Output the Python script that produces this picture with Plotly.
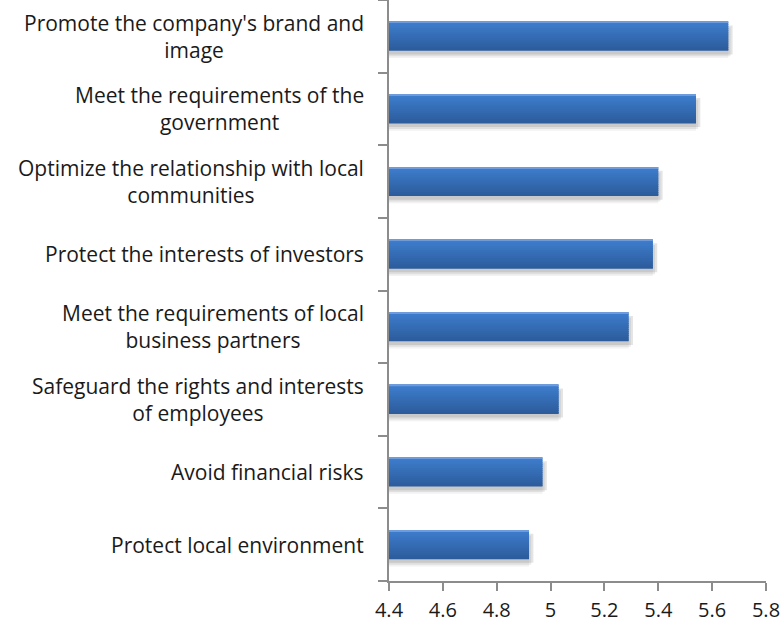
import numpy as np
import plotly.graph_objects as go

# Motives, listed top to bottom
categories = [
    "Promote the company's brand and<br>image",
    "Meet the requirements of the<br>government",
    "Optimize the relationship with local<br>communities",
    "Protect the interests of investors",
    "Meet the requirements of local<br>business partners",
    "Safeguard the rights and interests<br>of employees",
    "Avoid financial risks",
    "Protect local environment",
]
scores = [5.66, 5.54, 5.40, 5.38, 5.29, 5.03, 4.97, 4.92]
x_ticks = [4.4, 4.6, 4.8, 5.0, 5.2, 5.4, 5.6, 5.8]
x_tick_text = ["4.4", "4.6", "4.8", "5", "5.2", "5.4", "5.6", "5.8"]

FONT = "Open Sans"
BAR_W = 0.40
pos = list(range(len(categories)))

fig = go.Figure()

# soft drop shadow under each bar
for k, (dy, op) in enumerate([(0.10, 0.08), (0.075, 0.12), (0.05, 0.16)]):
    fig.add_trace(go.Bar(
        y=pos, x=scores, orientation="h",
        base=0.008 * (k + 1) - 0.008,
        width=BAR_W, offset=-BAR_W / 2 + dy,
        marker=dict(color=f"rgba(90,90,90,{op})", line=dict(width=0)),
        hoverinfo="skip", showlegend=False,
    ))

# vertical gradient fill built from thin bands (light at top, dark at bottom)
top_rgb = np.array([62, 125, 205])
bot_rgb = np.array([44, 92, 156])
n = 14
band = BAR_W / n
for i in range(n):
    t = i / (n - 1)
    c = (1 - t) * top_rgb + t * bot_rgb
    fig.add_trace(go.Bar(
        y=pos, x=scores, orientation="h", base=0,
        width=band * (1.6 if i < n - 1 else 1.0),
        offset=-BAR_W / 2 + i * band,
        marker=dict(color="rgb(%d,%d,%d)" % tuple(c.round()), line=dict(width=0)),
        hoverinfo="skip", showlegend=False,
    ))

# thin highlight along the top edge
fig.add_trace(go.Bar(
    y=pos, x=scores, orientation="h", base=0,
    width=0.018, offset=-BAR_W / 2,
    marker=dict(color="rgb(110,155,220)", line=dict(width=0)),
    hoverinfo="skip", showlegend=False,
))

# centered multi-line category labels
for p, label in zip(pos, categories):
    fig.add_annotation(
        x=0, xref="paper", xanchor="right", xshift=-23,
        y=p, yref="y", yanchor="middle",
        text=label, showarrow=False, align="center",
        font=dict(family=FONT, size=21, color="#1a1a1a"),
    )

fig.update_layout(
    width=781, height=621,
    margin=dict(l=389, r=15, t=0, b=40, autoexpand=False),
    paper_bgcolor="white", plot_bgcolor="white",
    barmode="overlay", showlegend=False,
    font=dict(family=FONT, size=21, color="#1a1a1a"),
)
fig.update_xaxes(
    range=[4.4, 5.8], tickvals=x_ticks, ticktext=x_tick_text,
    showgrid=False, zeroline=False, automargin=False,
    showline=True, linecolor="#8c8c8c", linewidth=1.5,
    ticks="outside", ticklen=8, tickcolor="#8c8c8c", tickwidth=1.5,
    ticklabelstandoff=2,
    tickfont=dict(family=FONT, size=20, color="#1a1a1a"),
)
fig.update_yaxes(
    type="linear", range=[7.5, -0.5], automargin=False,
    tickvals=[i - 0.5 for i in range(len(categories) + 1)],
    showticklabels=False, showgrid=False, zeroline=False,
    showline=True, linecolor="#8c8c8c", linewidth=1.5,
    ticks="outside", ticklen=9, tickcolor="#8c8c8c", tickwidth=1.5,
)

fig.write_html("out.html")
